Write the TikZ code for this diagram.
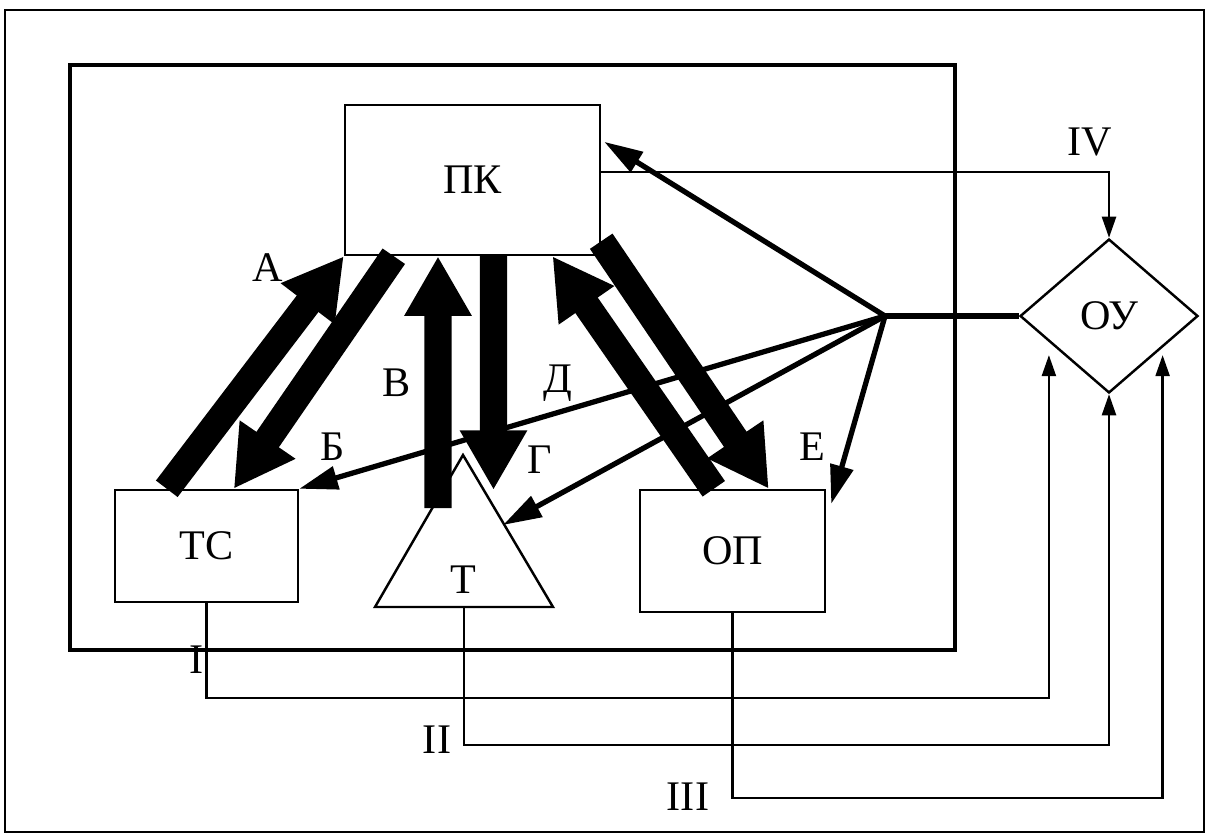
\documentclass[tikz,border=0pt]{standalone}
\usepackage{fontspec}
\setmainfont{Liberation Serif}
\usetikzlibrary{arrows.meta,shapes.geometric}
\begin{document}
\begin{tikzpicture}[x=.02cm, y=-.02cm, font=\fontsize{24}{26}\selectfont, line join=miter,
	box/.style={draw, line width=1.4pt, inner sep=0pt},
	wide/.style={line width=15.5pt, -{Triangle[length=34pt,width=36pt]}},
	hubline/.style={line width=3pt, -{Triangle[length=22pt,width=13pt]}},
	link/.style={line width=1.3pt, -{Triangle[length=12pt,width=8pt]}}]
	\useasboundingbox (0,0) rectangle (1209,836);
	\draw[line width=1.5pt] (5,10) rectangle (1204,832);
	\draw[line width=2.5pt] (70,65) rectangle (955,650);
	% blocks
	\node[box, minimum width=5.1cm, minimum height=3cm] (PK) at (472.5,180) {ПК};
	\node[box, minimum width=3.66cm, minimum height=2.24cm] (TC) at (206.5,546) {ТС};
	\node[box, minimum width=3.7cm, minimum height=2.44cm] (OP) at (732.5,551) {ОП};
	\node[box, diamond, minimum width=3.56cm, minimum height=3.08cm] (OU) at (1109,316) {ОУ};
	\coordinate (Ttop) at (463,455);
	\coordinate (Tleft) at (375,607);
	\coordinate (Tright) at (553,607);
	\coordinate (Tbase) at (464,607);
	\draw[line width=1.4pt] (Ttop)--(Tleft)--(Tright)--cycle;
	\node (T) at (463,580) {Т};
	% control lines
	\coordinate (hub) at (885,316);
	\draw[line width=3pt] (hub) -- (OU.west);
	\draw[hubline] (hub) -- ([xshift=.06cm,yshift=-.76cm]PK.north east);
	\draw[hubline] (hub) -- (TC.north east);
	\draw[hubline] (hub) -- (503,525);
	\draw[hubline] (hub) -- ([xshift=.1cm,yshift=-.3cm]OP.north east);
	% information flows
	\draw[wide] ([xshift=1.06cm]TC.north west) -- (PK.south west);
	\draw[wide] ([xshift=1cm]PK.south west) -- ([xshift=2.4cm]TC.north west);
	\draw[wide] (438,508) -- ([xshift=-.69cm]PK.south);
	\draw[wide] ([xshift=.42cm]PK.south) -- (493.5,490);
	\draw[wide] ([xshift=1.5cm]OP.north west) -- ([xshift=1.6cm]PK.south);
	\draw[wide] ([yshift=.3cm]PK.south east) -- ([xshift=2.6cm]OP.north west);
	% outputs
	\draw[link] ([yshift=-1.36cm]PK.north east) -| (OU.north);
	\draw[link] (TC.south) -- ++(0,95) -| ([xshift=-.3cm]OU.south west);
	\draw[link] (Tbase) -- ++(0,138) -| (OU.south);
	\draw[link] (OP.south) -- ++(0,185) -| ([xshift=.17cm]OU.south east);
	\path
	(268,268) node{А}
	(333,447) node{Б}
	(397,383) node{В}
	(540,460) node{Г}
	(558,383) node{Д}
	(812,447) node{Е}
	(197,660) node{I}
	(437,740) node{II}
	(688,797) node{III}
	(1090,142) node{IV};
\end{tikzpicture}
\end{document}
